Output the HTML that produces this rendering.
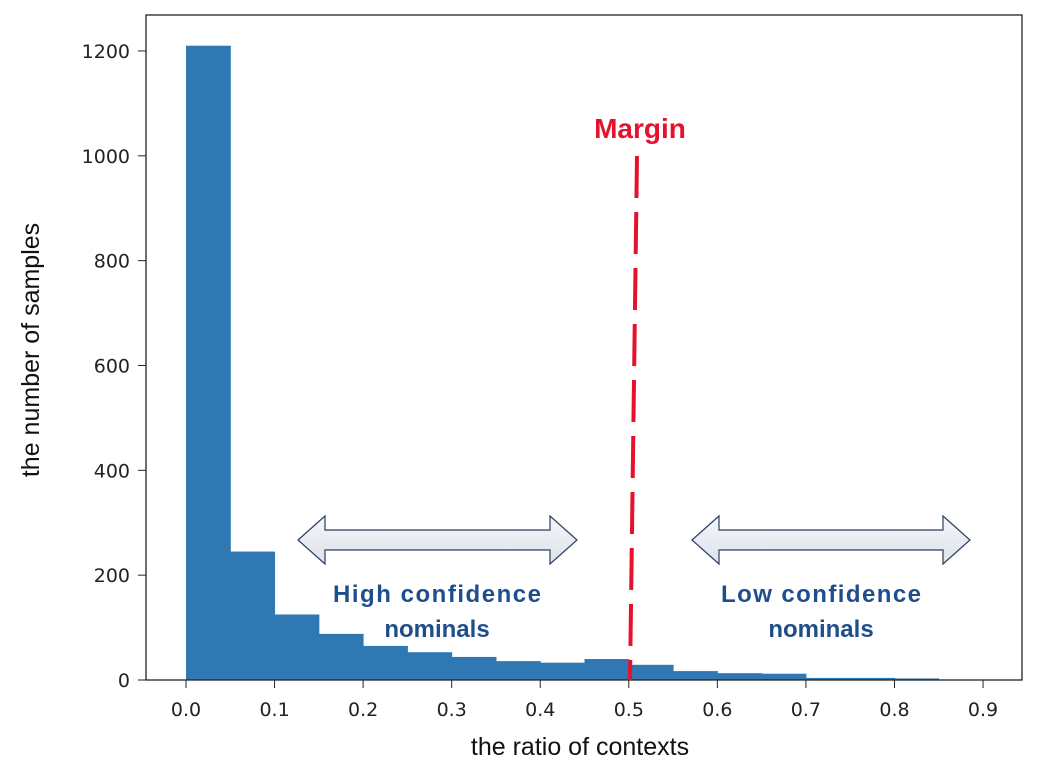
<!DOCTYPE html>
<html><head><meta charset="utf-8"><style>
body{margin:0;background:#fff;}
svg text{font-family:"Liberation Sans",sans-serif;}
</style></head><body>
<svg id="chart" width="1040" height="770" xmlns="http://www.w3.org/2000/svg">
<defs>
<linearGradient id="ag" x1="0" y1="0" x2="0" y2="1"><stop offset="0" stop-color="#f4f6f9"/><stop offset="1" stop-color="#dde3ea"/></linearGradient>
</defs>
<g id="bars"></g>
<rect x="146" y="15" width="876" height="665" fill="none" stroke="#222" stroke-width="1.3"/>
<g id="xt"></g><g id="yt"></g>
<text x="580" y="755" font-size="25" text-anchor="middle" fill="#111">the ratio of contexts</text>
<text transform="translate(39,350) rotate(-90)" font-size="25" text-anchor="middle" fill="#111">the number of samples</text>
<line x1="637" y1="156" x2="630" y2="680" stroke="#e8112d" stroke-width="4" stroke-dasharray="42,14"/>
<text x="640" y="138" font-size="28" font-weight="bold" text-anchor="middle" fill="#e8112d">Margin</text>
<path d="M298,540 L325,516 L325,530 L550,530 L550,516 L577,540 L550,564 L550,550 L325,550 L325,564 Z" fill="url(#ag)" stroke="#2a3f5f" stroke-width="1.2"/>
<path d="M692,540 L719,516 L719,530 L943,530 L943,516 L970,540 L943,564 L943,550 L719,550 L719,564 Z" fill="url(#ag)" stroke="#2a3f5f" stroke-width="1.2"/>
<text x="437" y="602" font-size="24" font-weight="bold" text-anchor="middle" fill="#1f4e8c" textLength="208">High confidence</text>
<text x="437" y="637" font-size="24" font-weight="bold" text-anchor="middle" fill="#1f4e8c">nominals</text>
<text x="821" y="602" font-size="24" font-weight="bold" text-anchor="middle" fill="#1f4e8c" textLength="200">Low confidence</text>
<text x="821" y="637" font-size="24" font-weight="bold" text-anchor="middle" fill="#1f4e8c">nominals</text>
</svg>
<script>
const binStarts=[0,0.05,0.1,0.15,0.2,0.25,0.3,0.35,0.4,0.45,0.5,0.55,0.6,0.65,0.7,0.75,0.8];
const counts=[1210,245,125,88,65,53,44,36,33,40,29,17,13,12,4,4,3];
const binWidth=0.05;
const xTicks=[0,0.1,0.2,0.3,0.4,0.5,0.6,0.7,0.8,0.9];
const yTicks=[0,200,400,600,800,1000,1200];
const NS="http://www.w3.org/2000/svg";
const X=v=>186+v*885.6;
const Y=v=>680-v*0.5242;
const bars=document.getElementById('bars');
binStarts.forEach((b,i)=>{
 const r=document.createElementNS(NS,'rect');
 r.setAttribute('x',X(b));r.setAttribute('width',X(b+binWidth)-X(b)+0.5);
 r.setAttribute('y',Y(counts[i]));r.setAttribute('height',Y(0)-Y(counts[i]));
 r.setAttribute('fill','#2f78b4');
 
 
 bars.appendChild(r);
});
const xt=document.getElementById('xt');
xTicks.forEach(t=>{
 const l=document.createElementNS(NS,'line');
 l.setAttribute('x1',X(t));l.setAttribute('x2',X(t));l.setAttribute('y1',680);l.setAttribute('y2',688);l.setAttribute('stroke','#222');
 
 
 xt.appendChild(l);
 const s=document.createElementNS(NS,'text');
 s.setAttribute('x',X(t));s.setAttribute('y',716);s.setAttribute('font-size','19');s.setAttribute('text-anchor','middle');s.setAttribute('fill','#222');
 s.setAttribute('style','font-family:"DejaVu Sans",sans-serif');
 s.textContent=t.toFixed(1);
 
 
 xt.appendChild(s);
});
const yt=document.getElementById('yt');
yTicks.forEach(t=>{
 const l=document.createElementNS(NS,'line');
 l.setAttribute('x1',138);l.setAttribute('x2',146);l.setAttribute('y1',Y(t));l.setAttribute('y2',Y(t));l.setAttribute('stroke','#222');
 
 
 yt.appendChild(l);
 const s=document.createElementNS(NS,'text');
 s.setAttribute('x',130);s.setAttribute('y',Y(t)+7);s.setAttribute('font-size','19');s.setAttribute('text-anchor','end');s.setAttribute('fill','#222');
 s.setAttribute('style','font-family:"DejaVu Sans",sans-serif');
 s.textContent=t;
 
 
 yt.appendChild(s);
});
</script>
</body></html>
